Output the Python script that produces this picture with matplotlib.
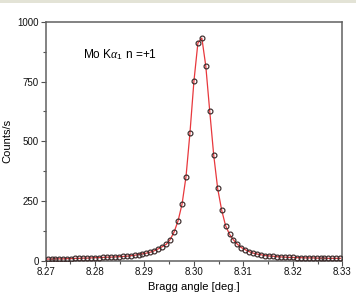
import matplotlib
matplotlib.use("Agg")
import matplotlib.pyplot as plt
from matplotlib.ticker import MultipleLocator
from matplotlib.patches import Rectangle

plt.rcParams['font.family'] = ['Liberation Sans', 'DejaVu Sans']
plt.rcParams['mathtext.fontset'] = 'custom'
plt.rcParams['mathtext.rm'] = 'Liberation Sans'
plt.rcParams['mathtext.it'] = 'Liberation Serif:italic'

# Bragg angle scan positions (deg.)
angle = [8.2704, 8.2712, 8.2720, 8.2728, 8.2736, 8.2744, 8.2752, 8.2760, 8.2768, 8.2776,
         8.2784, 8.2792, 8.2800, 8.2808, 8.2816, 8.2824, 8.2832, 8.2840, 8.2848, 8.2856,
         8.2864, 8.2872, 8.2880, 8.2888, 8.2896, 8.2904, 8.2912, 8.2920, 8.2928, 8.2936,
         8.2944, 8.2952, 8.2960, 8.2968, 8.2976, 8.2984, 8.2992, 8.3000, 8.3008, 8.3016,
         8.3024, 8.3032, 8.3040, 8.3048, 8.3056, 8.3064, 8.3072, 8.3080, 8.3088, 8.3096,
         8.3104, 8.3112, 8.3120, 8.3128, 8.3136, 8.3144, 8.3152, 8.3160, 8.3168, 8.3176,
         8.3184, 8.3192, 8.3200, 8.3208, 8.3216, 8.3224, 8.3232, 8.3240, 8.3248, 8.3256,
         8.3264, 8.3272, 8.3280, 8.3288, 8.3296]
# measured counts/s
counts = [6, 6, 7, 7, 7, 8, 8, 9, 9, 10,
          10, 11, 12, 12, 13, 14, 14, 15, 16, 17,
          18, 20, 22, 25, 28, 31, 35, 41, 49, 58,
          68, 88, 120, 167, 237, 352, 536, 752, 912, 933,
          815, 625, 442, 302, 212, 146, 110, 86, 68, 54,
          45, 37, 31, 27, 24, 21, 19, 18, 16, 15,
          14, 13, 13, 12, 12, 11, 11, 11, 10, 10,
          10, 9, 9, 9, 9]

xticks = [8.27, 8.28, 8.29, 8.30, 8.31, 8.32, 8.33]
xticklabels = ["8.27", "8.28", "8.29", "8.30", "8.31", "8.32", "8.33"]
yticks = [0, 250, 500, 750, 1000]

fig = plt.figure(figsize=(3.56, 2.98), dpi=100)
fig.patches.append(Rectangle((0, 0.99), 1, 0.01, transform=fig.transFigure,
                             facecolor='#e3e3d6', edgecolor='none'))
ax = fig.add_axes([0.128, 0.1258, 0.8335, 0.8002])

ax.plot(angle, counts, color='#e8383d', lw=0.9, zorder=2)
ax.plot(angle, counts, linestyle='none', marker='o', markersize=3.5,
        markerfacecolor='none', markeredgecolor='#3a2a2a', markeredgewidth=0.85, zorder=3)

ax.set_xlim(8.27, 8.33)
ax.set_ylim(0, 1000)
ax.set_xticks(xticks)
ax.set_xticklabels(xticklabels)
ax.set_yticks(yticks)
ax.xaxis.set_minor_locator(MultipleLocator(0.005))
ax.yaxis.set_minor_locator(MultipleLocator(125))

for s in ax.spines.values():
    s.set_color('#606060')
    s.set_linewidth(1.1)
ax.tick_params(which='major', direction='out', length=3.5, width=0.8, color='#505050',
               labelsize=7, pad=1.5, labelcolor='#111111')
ax.tick_params(which='minor', direction='out', length=2, width=0.8, color='#505050')
ax.tick_params(top=False, right=False)

ax.set_xlabel("Bragg angle [deg.]", fontsize=8, labelpad=3)
ax.set_ylabel("Counts/s", fontsize=8)
ax.yaxis.set_label_coords(-0.112, 0.5)

ax.text(8.2775, 865, r"Mo K$\alpha_{\mathregular{1}}$ n =+1", fontsize=8.6, ha='left', va='center')

fig.savefig("out.png", dpi=100)
